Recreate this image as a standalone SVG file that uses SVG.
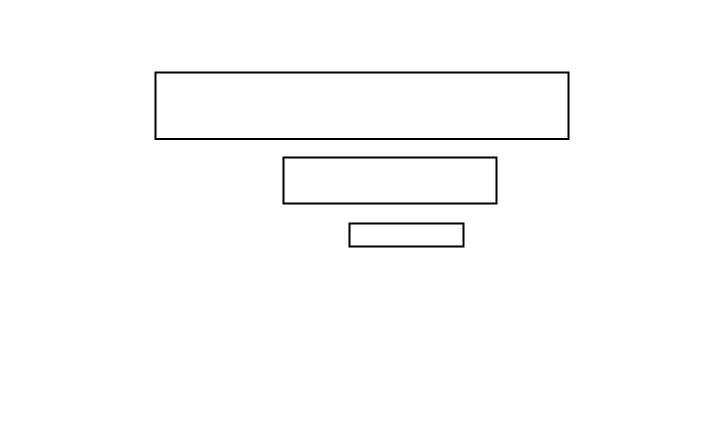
<svg xmlns="http://www.w3.org/2000/svg" width="720" height="429" viewBox="0 0 720 429">
<style>
.box{fill:#ffffff;stroke:#000000;stroke-width:2}
</style>
<rect x="0" y="0" width="720" height="429" fill="#ffffff"/>
<g id="node-top"><rect class="box" x="155.5" y="72.5" width="413" height="66.5"/></g>
<g id="node-middle"><rect class="box" x="283.5" y="157.5" width="213" height="46"/></g>
<g id="node-bottom"><rect class="box" x="349.5" y="223.5" width="114" height="23"/></g>
<g id="connectors"></g>
</svg>
